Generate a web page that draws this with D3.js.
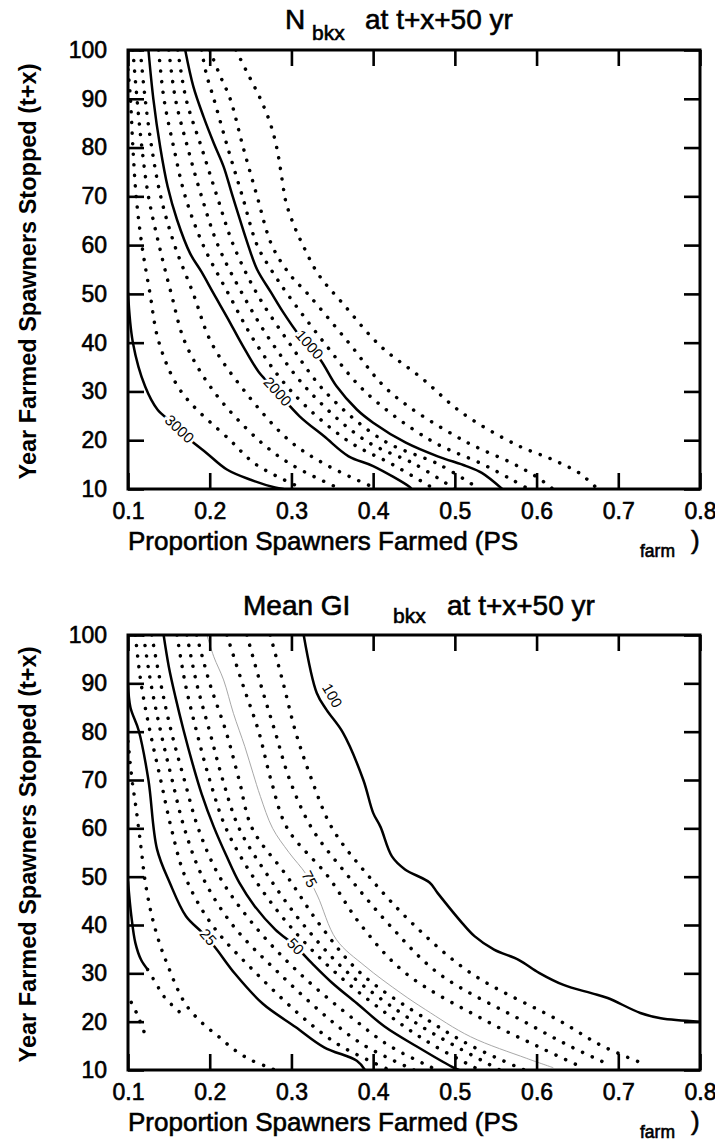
<!DOCTYPE html>
<html>
<head>
<meta charset="utf-8">
<title>N bkx and Mean GI bkx at t+x+50 yr</title>
<style>
* { margin: 0; padding: 0; }
body { background: #fff; width: 715px; height: 1145px; overflow: hidden; }
svg { display: block; font-family: "Liberation Sans", Arial, Helvetica, sans-serif; }
svg text.heavy { stroke: #000; stroke-width: 0.6px; }
</style>
</head>
<body>
<div id="chart"></div>
<script src="https://cdn.jsdelivr.net/npm/d3@7"></script>
<script>

// axis values
var xTicks = [ 0.1, 0.2, 0.3, 0.4, 0.5, 0.6, 0.7, 0.8 ];
var yTicks = [ 10, 20, 30, 40, 50, 60, 70, 80, 90, 100 ];

// ---- top panel: N bkx, contour lines as [PSfarm, year] ----
var nLevels = [ 250, 500, 750, 1000, 1250, 1500, 1750, 2000, 2250, 2500, 2750, 3000 ];
var nLines = [
	[[0.232,100],[0.247,95],[0.262,90],[0.274,85],[0.282,80],[0.289,73],[0.293,69],[0.302,64.5],[0.314,60],[0.333,54],[0.363,48],[0.409,39.3],[0.459,32.8],[0.509,25.6],[0.576,19],[0.62,16],[0.653,13.2],[0.665,11.5],[0.675,10]],
	[[0.2,100],[0.212,95],[0.225,90],[0.241,80],[0.258,70],[0.276,60],[0.298,54],[0.32,50],[0.37,40],[0.42,30],[0.51,20],[0.57,15.3],[0.6,12.5],[0.62,10]],
	[[0.19,100],[0.196,95],[0.205,90],[0.222,80],[0.24,70],[0.258,60],[0.275,55],[0.295,50],[0.34,40],[0.39,30],[0.47,20],[0.535,15],[0.571,11.8],[0.59,10]],
	[[0.170,100],[0.18,92.5],[0.1925,86.3],[0.205,80.9],[0.217,76.1],[0.227,70.6],[0.237,65.2],[0.2476,59.7],[0.258,55],[0.275,50.3],[0.29,46.2],[0.31,41.4],[0.335,36.6],[0.355,31.1],[0.38,26.3],[0.4,23.6],[0.44,19.5],[0.479,16.7],[0.514,14.7],[0.533,13.3],[0.558,10]],
	[[0.161,100],[0.171,90],[0.19,80],[0.209,70],[0.229,60],[0.258,50],[0.297,40],[0.341,30],[0.412,20],[0.481,15],[0.53,10]],
	[[0.15,100],[0.158,90],[0.173,80],[0.19,70],[0.21,60],[0.24,50],[0.276,40],[0.322,30],[0.39,20],[0.452,15],[0.5,10]],
	[[0.1375,100],[0.144,90],[0.156,80],[0.17,70],[0.192,60],[0.223,50],[0.256,40],[0.3,30],[0.368,20],[0.424,15],[0.475,10]],
	[[0.125,100],[0.131,90],[0.1395,80],[0.1485,72],[0.16,65.2],[0.176,58.3],[0.19,54.5],[0.205,50],[0.222,45],[0.24,39.5],[0.26,34],[0.28,30.4],[0.31,24.9],[0.34,20.8],[0.37,16.7],[0.4,14.7],[0.444,10.5],[0.447,10]],
	[[0.115,100],[0.121,90],[0.129,80],[0.14,70],[0.157,60],[0.18,50],[0.202,40],[0.243,30],[0.297,20],[0.342,15],[0.405,10]],
	[[0.106,100],[0.111,90],[0.117,80],[0.125,70],[0.138,60],[0.153,50],[0.17,40],[0.205,30],[0.26,20],[0.3,15],[0.36,10]],
	[[0.1,96],[0.103,90],[0.106,80],[0.11,70],[0.117,60],[0.127,50],[0.138,40],[0.165,30],[0.225,20],[0.257,15],[0.315,10]],
	[[0.1,50.3],[0.106,40],[0.121,31],[0.136,26.3],[0.154,23.6],[0.176,20.1],[0.196,17.4],[0.221,14],[0.25,11.9],[0.28,10.3],[0.29,10]]
];
var nLabels = [ [ '1000', 0.322, 39.6 ], [ '2000', 0.283, 30 ], [ '3000', 0.163, 22.3 ] ];

// ---- bottom panel: mean GI bkx ----
var giLevels = [ 0, 6.25, 12.5, 18.75, 25, 31.25, 37.5, 43.75, 50, 56.25, 62.5, 68.75, 75, 81.25, 87.5, 93.75, 100 ];
var giLines = [
	[[0.1,49],[0.104,42],[0.109,36.3],[0.116,32.8],[0.124,30.8]],
	[[0.124,30.8],[0.134,28],[0.144,25.2],[0.156,23.1],[0.169,21.1]],
	[[0.104,24],[0.111,21.6],[0.116,19.5],[0.124,16]],
	[[0.1,78],[0.105,70],[0.11,64],[0.116,56],[0.121,49],[0.129,42],[0.139,36],[0.149,31.5],[0.161,26.6],[0.173,23],[0.191,19.7],[0.211,16.9],[0.23,14.2],[0.25,12.1],[0.27,10.7],[0.28,10]],
	[[0.1,90],[0.103,85],[0.113,80.3],[0.125,70],[0.1355,55.7],[0.151,48.8],[0.171,41.8],[0.191,38.4],[0.206,35.5],[0.231,29.9],[0.265,23.7],[0.305,18.9],[0.34,14.7],[0.38,11.9],[0.39,10]],
	[[0.109,100],[0.116,90],[0.127,80],[0.14,70],[0.153,60],[0.17,50],[0.203,40],[0.257,30],[0.32,20],[0.36,15],[0.42,10]],
	[[0.119,100],[0.128,90],[0.14,80],[0.154,70],[0.169,60],[0.191,50],[0.228,40],[0.285,30],[0.35,20],[0.39,15],[0.45,10]],
	[[0.129,100],[0.14,90],[0.153,80],[0.169,70],[0.186,60],[0.212,50],[0.254,40],[0.31,30],[0.38,20],[0.42,15],[0.478,10]],
	[[0.1436,100],[0.15,93.4],[0.158,87.2],[0.168,80.3],[0.18,72.8],[0.19,67.2],[0.205,60.3],[0.221,54.1],[0.236,48.8],[0.255,43.9],[0.28,39.1],[0.305,35.6],[0.325,32.1],[0.35,28],[0.38,23.8],[0.414,19],[0.454,14.8],[0.496,10.7],[0.505,10]],
	[[0.16,100],[0.17,90],[0.184,80],[0.2,70],[0.22,60],[0.253,50],[0.297,40],[0.355,30],[0.43,20],[0.475,15],[0.53,10]],
	[[0.172,100],[0.184,90],[0.2,80],[0.216,70],[0.236,60],[0.272,50],[0.315,40],[0.37,30],[0.45,20],[0.5,15],[0.555,10]],
	[[0.184,100],[0.2,90],[0.22,80],[0.236,70],[0.252,60],[0.295,50],[0.335,40],[0.385,30],[0.47,20],[0.52,15],[0.585,10]],
	[[0.1966,100],[0.205,95.5],[0.217,90.7],[0.229,83.8],[0.243,76.9],[0.253,71.4],[0.262,66.6],[0.277,60],[0.297,55],[0.318,50.5],[0.332,46],[0.355,37],[0.39,31.5],[0.434,25.9],[0.464,22.5],[0.519,16.9],[0.588,12.4],[0.62,10.5]],
	[[0.221,100],[0.24,90],[0.26,80],[0.275,70],[0.295,60],[0.345,50],[0.385,40],[0.44,30],[0.54,20],[0.6,15],[0.65,11]],
	[[0.2455,100],[0.262,90],[0.28,80],[0.298,70],[0.325,60],[0.37,50],[0.42,40],[0.48,30],[0.585,20],[0.64,15],[0.69,11]],
	[[0.274,100],[0.29,90],[0.305,80],[0.325,70],[0.35,60],[0.395,50],[0.45,40],[0.52,30],[0.63,20],[0.68,15],[0.735,11]],
	[[0.315,100],[0.331,88],[0.343,84.5],[0.363,79.8],[0.388,70],[0.4,63.2],[0.409,60.3],[0.423,54.2],[0.439,51.5],[0.469,48.8],[0.479,46.6],[0.509,40.4],[0.524,37.7],[0.548,34.9],[0.578,32.8],[0.603,30.1],[0.633,27.6],[0.667,25.9],[0.687,24.9],[0.727,21.8],[0.752,20.7],[0.8,20]]
];
var giLabels = [ [ '25', 0.198, 37.5 ], [ '50', 0.305, 35.6 ], [ '75', 0.322, 49.5 ], [ '100', 0.35, 87.5 ] ];

var width = 715, height = 1145;
var svg = d3.select( '#chart' ).append( 'svg' )
	.attr( 'width', width )
	.attr( 'height', height );

var plotLeft = 128, plotRight = 700;
var x = d3.scaleLinear().domain( [ 0.1, 0.8 ] ).range( [ plotLeft, plotRight ] );

function drawPanel( top, bottom, id, lines, levels, labels, isSolid, isFaint ) {

	var y = d3.scaleLinear().domain( [ 10, 100 ] ).range( [ bottom, top ] );
	var g = svg.append( 'g' );

	g.append( 'clipPath' ).attr( 'id', id )
		.append( 'rect' )
		.attr( 'x', plotLeft ).attr( 'y', top )
		.attr( 'width', plotRight - plotLeft ).attr( 'height', bottom - top );

	var line = d3.line()
		.x( function ( d ) { return x( d[0] ); } )
		.y( function ( d ) { return y( d[1] ); } )
		.curve( d3.curveCatmullRom.alpha( 0.5 ) );

	var contours = g.append( 'g' ).attr( 'clip-path', 'url(#' + id + ')' );
	contours.selectAll( 'path' )
		.data( lines )
		.enter()
		.append( 'path' )
		.attr( 'd', line )
		.attr( 'fill', 'none' )
		.attr( 'stroke', function ( d, i ) { return isFaint( levels[i] ) ? '#a8a8a8' : '#000'; } )
		.attr( 'stroke-width', function ( d, i ) {
			if ( isFaint( levels[i] ) ) return 1;
			return isSolid( levels[i] ) ? 2.5 : 3.5;
		} )
		.attr( 'stroke-linecap', 'round' )
		.attr( 'stroke-dasharray', function ( d, i ) {
			return ( isSolid( levels[i] ) || isFaint( levels[i] ) ) ? null : '0.1 10.5';
		} );

	// labels sit on the line, turned to its local direction
	labels.forEach( function ( lab ) {
		var px = x( lab[1] ), py = y( lab[2] );
		var best = null, bestD = Infinity;
		lines.forEach( function ( pts ) {
			for ( var k = 0; k < pts.length - 1; k++ ) {
				var ax = x( pts[k][0] ), ay = y( pts[k][1] );
				var bx = x( pts[k+1][0] ), by = y( pts[k+1][1] );
				var mx = ( ax + bx ) / 2, my = ( ay + by ) / 2;
				var dd = ( mx - px ) * ( mx - px ) + ( my - py ) * ( my - py );
				if ( dd < bestD ) { bestD = dd; best = [ bx - ax, by - ay ]; }
			}
		} );
		var ang = Math.atan2( best[1], best[0] ) * 180 / Math.PI;
		if ( ang > 90 ) ang -= 180;
		if ( ang < -90 ) ang += 180;
		g.append( 'text' )
			.attr( 'transform', 'translate(' + px + ',' + py + ') rotate(' + ang + ')' )
			.attr( 'text-anchor', 'middle' )
			.attr( 'dy', '0.35em' )
			.style( 'font-size', '15px' )
			.style( 'paint-order', 'stroke' )
			.style( 'stroke', '#fff' )
			.style( 'stroke-width', 5 )
			.text( lab[0] );
	} );

	// axes with inward ticks
	var tickLen = 16;
	var xb = g.append( 'g' ).attr( 'transform', 'translate(0,' + bottom + ')' )
		.call( d3.axisBottom( x ).tickValues( xTicks ).tickFormat( d3.format( '.1f' ) )
			.tickSizeInner( -tickLen ).tickSizeOuter( 0 ).tickPadding( 14 ) );
	var xt = g.append( 'g' ).attr( 'transform', 'translate(0,' + top + ')' )
		.call( d3.axisTop( x ).tickValues( xTicks ).tickFormat( '' )
			.tickSizeInner( -tickLen ).tickSizeOuter( 0 ) );
	var yl = g.append( 'g' ).attr( 'transform', 'translate(' + plotLeft + ',0)' )
		.call( d3.axisLeft( y ).tickValues( yTicks )
			.tickSizeInner( -tickLen ).tickSizeOuter( 0 ).tickPadding( 21 ) );
	var yr = g.append( 'g' ).attr( 'transform', 'translate(' + plotRight + ',0)' )
		.call( d3.axisRight( y ).tickValues( yTicks ).tickFormat( '' )
			.tickSizeInner( -tickLen ).tickSizeOuter( 0 ) );

	[ xb, xt, yl, yr ].forEach( function ( a ) {
		a.select( '.domain' ).remove();
		a.selectAll( '.tick line' ).attr( 'stroke', '#000' ).attr( 'stroke-width', 2.6 );
		a.selectAll( 'text' ).attr( 'fill', '#000' ).attr( 'class', 'heavy' )
			.style( 'font-size', '23px' )
			.style( 'font-family', '"Liberation Sans", Arial, sans-serif' );
	} );

	g.append( 'rect' )
		.attr( 'x', plotLeft ).attr( 'y', top )
		.attr( 'width', plotRight - plotLeft ).attr( 'height', bottom - top )
		.attr( 'fill', 'none' )
		.attr( 'stroke', '#000' )
		.attr( 'stroke-width', 3 );

	// axis titles
	g.append( 'text' )
		.attr( 'transform', 'translate(36,' + ( ( top + bottom ) / 2 + 2 ) + ') rotate(-90)' )
		.attr( 'text-anchor', 'middle' )
		.style( 'font-size', '23.5px' )
		.style( 'font-weight', 'bold' )
		.text( 'Year Farmed Spawners Stopped (t+x)' );

	g.append( 'text' )
		.attr( 'class', 'heavy' )
		.attr( 'x', plotLeft )
		.attr( 'y', bottom + 61 )
		.style( 'font-size', '26px' )
		.text( 'Proportion Spawners Farmed (PS' );
	g.append( 'text' )
		.attr( 'class', 'heavy' )
		.attr( 'x', 640 ).attr( 'y', bottom + 68 )
		.style( 'font-size', '17.5px' )
		.text( 'farm' );
	g.append( 'text' )
		.attr( 'class', 'heavy' )
		.attr( 'x', 691 ).attr( 'y', bottom + 60 )
		.style( 'font-size', '26px' )
		.text( ')' );

	return g;
}

var top1 = drawPanel( 50, 489, 'clipN', nLines, nLevels, nLabels,
	function ( v ) { return v % 1000 === 0; },
	function ( v ) { return false; } );

var top2 = drawPanel( 635, 1070, 'clipGI', giLines, giLevels, giLabels,
	function ( v ) { return v % 25 === 0; },
	function ( v ) { return v === 75; } );

// panel titles
function title( g, parts ) {
	parts.forEach( function ( p ) {
		g.append( 'text' ).attr( 'class', 'heavy' )
			.attr( 'x', p[1] ).attr( 'y', p[2] )
			.style( 'font-size', p[3] + 'px' )
			.text( p[0] );
	} );
}
title( top1, [ [ 'N', 285, 29, 28 ], [ 'bkx', 312, 40, 21 ], [ 'at t+x+50 yr', 365, 29, 28 ] ] );
title( top2, [ [ 'Mean GI', 243, 615, 28 ], [ 'bkx', 393, 623, 21 ], [ 'at t+x+50 yr', 447, 615, 28 ] ] );

</script>
</body>
</html>
